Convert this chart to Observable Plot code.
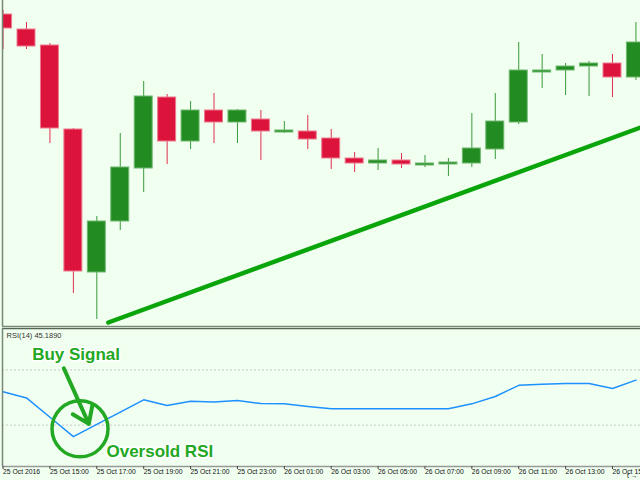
<!DOCTYPE html>
<html>
<head>
<meta charset="utf-8">
<script src="https://cdn.jsdelivr.net/npm/d3@7"></script>
<script src="https://cdn.jsdelivr.net/npm/@observablehq/plot@0.6"></script>
<style>
  html, body { margin: 0; padding: 0; background: #F0FFF0; }
  #chart svg { display: block; }
</style>
</head>
<body>
<div id="chart"></div>
<script>
// ---- Data (hourly candles) ----
const times = [
  "2016-10-25T13:00","2016-10-25T14:00","2016-10-25T15:00","2016-10-25T16:00",
  "2016-10-25T17:00","2016-10-25T18:00","2016-10-25T19:00","2016-10-25T20:00",
  "2016-10-25T21:00","2016-10-25T22:00","2016-10-25T23:00","2016-10-26T00:00",
  "2016-10-26T01:00","2016-10-26T02:00","2016-10-26T03:00","2016-10-26T04:00",
  "2016-10-26T05:00","2016-10-26T06:00","2016-10-26T07:00","2016-10-26T08:00",
  "2016-10-26T09:00","2016-10-26T10:00","2016-10-26T11:00","2016-10-26T12:00",
  "2016-10-26T13:00","2016-10-26T14:00","2016-10-26T15:00","2016-10-26T16:00"
];
const opens  = [1.09386,1.09371,1.09355,1.09271,1.09128,1.09179,1.09232,1.09303,1.09259,1.09290,1.09278,1.09281,1.09268,1.09269,1.09262,1.09242,1.09237,1.09240,1.09235,1.09236,1.09237,1.09251,1.09278,1.09328,1.09330,1.09334,1.09337,1.09323];
const highs  = [1.09390,1.09378,1.09357,1.09272,1.09184,1.09267,1.09319,1.09306,1.09299,1.09307,1.09291,1.09290,1.09279,1.09285,1.09271,1.09248,1.09252,1.09247,1.09245,1.09242,1.09287,1.09307,1.09358,1.09346,1.09337,1.09339,1.09346,1.09378];
const lows   = [1.09351,1.09351,1.09257,1.09107,1.09081,1.09170,1.09208,1.09236,1.09251,1.09257,1.09257,1.09240,1.09267,1.09251,1.09231,1.09228,1.09230,1.09232,1.09233,1.09224,1.09233,1.09241,1.09276,1.09312,1.09305,1.09304,1.09303,1.09320];
const closes = [1.09372,1.09354,1.09272,1.09129,1.09179,1.09233,1.09304,1.09259,1.09290,1.09278,1.09290,1.09269,1.09270,1.09261,1.09242,1.09237,1.09240,1.09236,1.09237,1.09238,1.09252,1.09279,1.09330,1.09330,1.09334,1.09337,1.09323,1.09358];
const rsiValues = [54.1,49.7,35.7,21.6,30.5,39.4,48.3,44.2,47.3,46.8,47.8,45.6,45.4,43.5,41.8,41.8,41.8,41.8,41.8,41.8,45.4,50.7,58.8,59.6,60.1,60.1,56.5,62.6];
const rsiLevels = [70, 30];
const rsiLabel = "RSI(14) 45.1890";

const trendTimes  = ["2016-10-25T17:29:30", "2016-10-26T16:12:00"];
const trendPrices = [1.09078, 1.09273];

const tickTimes = ["2016-10-25T13:00","2016-10-25T15:00","2016-10-25T17:00","2016-10-25T19:00","2016-10-25T21:00","2016-10-25T23:00","2016-10-26T01:00","2016-10-26T03:00","2016-10-26T05:00","2016-10-26T07:00","2016-10-26T09:00","2016-10-26T11:00","2016-10-26T13:00","2016-10-26T15:00"];
const tickLabels = ["25 Oct 2016","25 Oct 15:00","25 Oct 17:00","25 Oct 19:00","25 Oct 21:00","25 Oct 23:00","26 Oct 01:00","26 Oct 03:00","26 Oct 05:00","26 Oct 07:00","26 Oct 09:00","26 Oct 11:00","26 Oct 13:00","26 Oct 15:00"];

// annotations (time, RSI value)
const buyText = {t: "2016-10-25T14:14:30", v: 80.8, label: "Buy Signal"};
const oversoldText = {t: "2016-10-25T17:24:40", v: 10.5, label: "Oversold RSI"};
const circleAt = {t: "2016-10-25T16:17:00", v: 27.3};
const arrowFrom = {t: "2016-10-25T15:35:30", v: 71.2};
const arrowTo = {t: "2016-10-25T16:39:30", v: 30.9};

const xDomainStr = ["2016-10-25T12:58:34", "2016-10-26T16:11:42"];
const yDomain = [1.09074, 1.09400];

// ---- Build ----
const T = s => new Date(s + (s.length === 16 ? ":00Z" : "Z"));
const xDomain = xDomainStr.map(T);
const candles = times.map((s, i) => ({
  t: T(s), open: opens[i], high: highs[i], low: lows[i], close: closes[i],
  up: closes[i] >= opens[i]
}));
const rsi = times.map((s, i) => ({t: T(s), v: rsiValues[i]}));
const trend = trendTimes.map((s, i) => ({t: T(s), p: trendPrices[i]}));
const halfBody = 23 * 60 * 1000;
const RED = "#DC143C", GREEN = "#228B22";
const ANNO = "#22a822";
const labelOf = new Map(tickTimes.map((s, i) => [+T(s), tickLabels[i]]));

const main = Plot.plot({
  width: 640, height: 327,
  marginTop: 0, marginBottom: 1, marginLeft: 2, marginRight: 0,
  x: {type: "utc", domain: xDomain, axis: null},
  y: {domain: yDomain, axis: null},
  color: {type: "identity"},
  style: {background: "#F0FFF0", fontFamily: "Liberation Sans"},
  marks: [
    Plot.ruleX(candles, {x: "t", y1: "low", y2: "high",
      stroke: d => d.up ? "#3a9a3a" : "#e0304f", strokeWidth: 1, clip: true}),
    Plot.rect(candles, {
      x1: d => new Date(+d.t - halfBody), x2: d => new Date(+d.t + halfBody),
      y1: "open", y2: "close",
      fill: d => d.up ? GREEN : RED,
      stroke: d => d.up ? "#6fb86f" : "#ee7a90", strokeWidth: 1, clip: true}),
    Plot.line(trend, {x: "t", y: "p", stroke: "#0aa50a", strokeWidth: 4.5, clip: true}),
    Plot.ruleX([xDomain[0]], {stroke: "#778877", strokeWidth: 1.5}),
    Plot.ruleY([yDomain[0]], {stroke: "#778877", strokeWidth: 1.5})
  ]
});

const rsiPlot = Plot.plot({
  width: 640, height: 153,
  marginTop: 1, marginBottom: 14, marginLeft: 2, marginRight: 0,
  x: {type: "utc", domain: xDomain, axis: null},
  y: {domain: [0, 100], axis: null},
  style: {background: "#F0FFF0", fontFamily: "Liberation Sans", overflow: "hidden"},
  marks: [
    Plot.ruleY(rsiLevels, {stroke: "#c8c8c8", strokeDasharray: "2,2"}),
    Plot.line(rsi, {x: "t", y: "v", stroke: "#1e90ff", strokeWidth: 1.5}),
    Plot.ruleY([100], {stroke: "#556655", strokeWidth: 1.5}),
    Plot.ruleY([0], {stroke: "#999999", strokeWidth: 1.5}),
    Plot.ruleX([xDomain[0]], {stroke: "#778877", strokeWidth: 1.5}),
    Plot.axisX(tickTimes.map(T), {
      tickFormat: d => labelOf.get(+d), tickSize: 3, tickPadding: 0,
      textAnchor: "start", dx: 0, fontSize: 6.8, stroke: "#444", fill: "#111"
    }),
    Plot.text([rsiLabel], {frameAnchor: "top-left", text: d => d, dx: 4, dy: 7.5,
      lineAnchor: "middle", textAnchor: "start", fontSize: 7.5, fill: "#333"}),
    Plot.dot([circleAt], {x: d => T(d.t), y: "v", r: 28, stroke: ANNO, strokeWidth: 3.5, fill: "none"}),
    Plot.arrow([{a: arrowFrom, b: arrowTo}], {
      x1: d => T(d.a.t), y1: d => d.a.v, x2: d => T(d.b.t), y2: d => d.b.v,
      stroke: ANNO, strokeWidth: 4, headLength: 7, headAngle: 70}),
    Plot.text([buyText, oversoldText], {x: d => T(d.t), y: "v", text: "label",
      textAnchor: "start", fontSize: 17, fontWeight: "bold",
      fill: ANNO, stroke: "white", strokeWidth: 3})
  ]
});

const root = document.getElementById("chart");
root.append(main, rsiPlot);
</script>
</body>
</html>
